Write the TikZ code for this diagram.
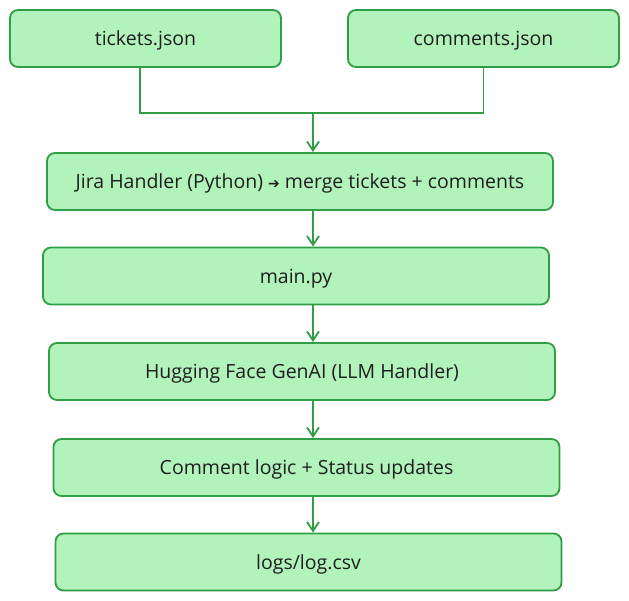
\documentclass[tikz,border=0pt]{standalone}
\usepackage{fontspec}
\setmainfont{Open Sans}
\newfontfamily\symfont{DejaVu Sans}
\usetikzlibrary{arrows.meta}

\definecolor{boxfill}{HTML}{B2F2BB}
\definecolor{boxline}{HTML}{2F9E44}
\definecolor{ink}{HTML}{1E1E1E}

\begin{document}
\begin{tikzpicture}[x=1pt,y=-1pt,
  box/.style={draw=boxline, fill=boxfill, line width=1.8pt, rounded corners=8pt,
    minimum height=57pt, minimum width=506pt, inner sep=0pt,
    text height=14pt, text depth=0pt,
    font=\fontsize{19.5}{23}\selectfont, text=ink},
  wire/.style={draw=boxline, line width=1.8pt},
  flow/.style={wire, -{Straight Barb[length=9pt,width=12pt]}}]

\useasboundingbox (0,0) rectangle (629,600);

\coordinate (J) at (313, 113);

\node[box, minimum width=271pt] (tickets) at (145.5, 38.5) {tickets.json};
\node[box, minimum width=271pt] (comments) at (483.5, 38.5) {comments.json};

\node[box] (jira) at (300, 181.5) {Jira Handler (Python) {\symfont\fontsize{14}{16}\selectfont ➔} merge tickets + comments};
\node[box] (mainpy) at (296, 276) {main.py};
\node[box] (llm) at (302, 371.5) {Hugging Face GenAI (LLM Handler)};
\node[box] (logic) at (306.5, 467.5) {Comment logic + Status updates};
\node[box] (logs) at (308.5, 562) {logs/log.csv};

\draw[wire] ([xshift=-5.5pt]tickets.south) |- (J) -| (comments.south);
\draw[flow] (J) -- (jira.north -| J);

\foreach \a/\b in {jira/mainpy, mainpy/llm, llm/logic, logic/logs}
  \draw[flow] (\a.south -| J) -- (\b.north -| J);

\end{tikzpicture}
\end{document}
